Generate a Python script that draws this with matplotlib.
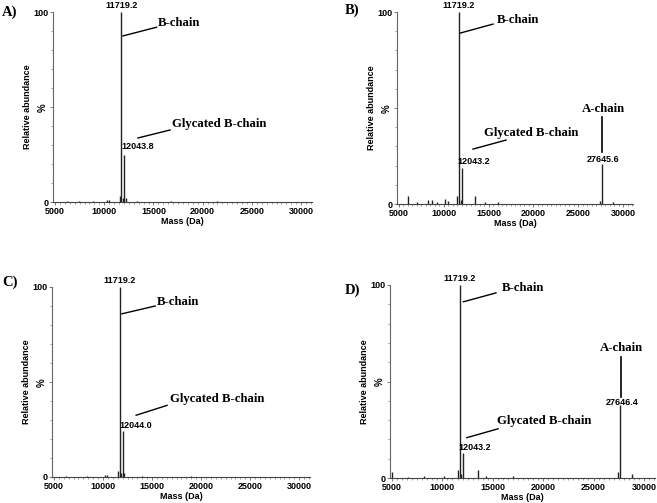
import matplotlib
matplotlib.use("Agg")
import matplotlib.pyplot as plt
import numpy as np

# stick spectra (mass in Da, relative abundance in %)
mass_a = [6200, 7400, 8900, 10250, 10450, 11560, 11719.2, 11860, 12043.8, 12180, 13300, 16800, 21500]
int_a = [0.5, 0.4, 0.5, 1.0, 0.8, 3.0, 100, 2.0, 25, 2.0, 0.6, 0.4, 0.4]

mass_b = [6000, 7000, 8300, 8700, 9300, 10200, 10450, 11450, 11719.2, 11880, 12043.2, 13500, 14600, 16000, 27400, 27645.6, 28900]
int_b = [4.0, 1.0, 2.0, 2.0, 1.0, 2.5, 1.5, 4.0, 100, 2.0, 19, 4.0, 1.0, 0.8, 1.5, 21, 1.0]

mass_c = [6200, 8400, 10250, 10450, 11560, 11719.2, 11860, 12044.0, 12180, 14000, 19000]
int_c = [0.4, 0.4, 1.0, 0.8, 3.0, 100, 2.0, 24, 2.0, 0.5, 0.4]

mass_d = [5000, 6600, 8200, 10200, 11500, 11719.2, 11880, 12043.2, 13500, 14300, 17000, 27450, 27646.4, 28800]
int_d = [3.0, 0.5, 0.8, 1.0, 4.0, 100, 2.0, 13, 4.0, 1.0, 0.8, 3.0, 38, 2.0]

panel_letters = ["A)", "B)", "C)", "D)"]
main_label = "11719.2"
glyc_labels = ["12043.8", "12043.2", "12044.0", "12043.2"]
achain_labels = [None, "27645.6", None, "27646.4"]

W, H = 657, 503
fig = plt.figure(figsize=(W / 100, H / 100), dpi=100)

# axes boxes in pixels: left, right, top, bottom
boxes = [(53, 312, 12, 202), (397, 633, 12, 204), (52, 310, 287, 477), (390, 655, 285, 478)]

# annotation geometry in axes fraction
bchain = [
    ((0.405, 0.942), (0.27, 0.874), (0.40, 0.92)),
    ((0.424, 0.958), (0.267, 0.89), (0.407, 0.937)),
    ((0.407, 0.921), (0.271, 0.859), (0.40, 0.90)),
    ((0.423, 0.985), (0.277, 0.913), (0.40, 0.959)),
]
glyc = [
    ((0.46, 0.41), (0.328, 0.337), (0.452, 0.379)),
    ((0.369, 0.37), (0.322, 0.286), (0.462, 0.333)),
    ((0.457, 0.408), (0.326, 0.325), (0.446, 0.377)),
    ((0.404, 0.296), (0.29, 0.209), (0.408, 0.255)),
]
glyc_num = [(0.266, 0.29), (0.258, 0.219), (0.26, 0.272), (0.26, 0.158)]
achain = [None, ((0.873, 0.495), 0.455, 0.271, 0.234), None, ((0.875, 0.675), 0.625, 0.42, 0.393)]
letter_pos = [(2, 12), (345, 10), (2, 282), (345, 290)]

spectra = [(mass_a, int_a), (mass_b, int_b), (mass_c, int_c), (mass_d, int_d)]

sans = "Liberation Sans"
serif = "Liberation Serif"
col = "#222222"
fs_small = 6.5
fs_big = 9.2

for i, (m, y) in enumerate(spectra):
    l, r, t, b = boxes[i]
    ax = fig.add_axes([l / W, 1 - b / H, (r - l) / W, (b - t) / H])
    ax.vlines(m, 0, y, color=col, lw=1.0)
    ax.set_xlim(4800, 31100)
    ax.set_ylim(0, 100)
    for s in ["top", "right"]:
        ax.spines[s].set_visible(False)
    ax.spines["left"].set_color("#666666")
    ax.spines["bottom"].set_color("#444444")
    ax.spines["left"].set_linewidth(0.8)
    ax.spines["bottom"].set_linewidth(0.8)
    ax.set_yticks([0, 50, 100])
    ax.set_yticklabels(["0", "%", "100"])
    ax.set_yticks(np.arange(0, 101, 10), minor=True)
    ax.set_xticks(np.arange(5000, 30001, 5000))
    ax.set_xticks(np.arange(5000, 31001, 500), minor=True)
    ax.tick_params(axis="both", which="major", length=2, width=0.6, color="#666666", pad=1.5)
    ax.tick_params(axis="both", which="minor", length=1.5, width=0.5, color="#777777")
    for lab in ax.get_xticklabels() + ax.get_yticklabels():
        lab.set_fontfamily(sans)
        lab.set_fontweight("bold")
        lab.set_fontsize(fs_small)
    ax.get_yticklabels()[1].set_rotation(90)
    ax.get_yticklabels()[1].set_fontsize(7)
    ax.set_xlabel("Mass (Da)", fontfamily=sans, fontweight="bold", fontsize=fs_small, labelpad=1)
    ax.set_ylabel("Relative abundance", fontfamily=sans, fontweight="bold", fontsize=fs_small, labelpad=0.5)

    tr = ax.transAxes
    # main peak label
    ax.text(11719.2, 101, main_label, ha="center", va="bottom", fontfamily=sans,
            fontweight="bold", fontsize=fs_small, clip_on=False)
    # B-chain
    (tx, ty), p0, p1 = bchain[i]
    ax.text(tx, ty, "B-chain", transform=tr, ha="left", va="center", fontfamily=serif,
            fontweight="bold", fontsize=fs_big, clip_on=False)
    ax.plot([p0[0], p1[0]], [p0[1], p1[1]], transform=tr, color="black", lw=1.0, clip_on=False)
    # glycated
    (tx, ty), p0, p1 = glyc[i]
    ax.text(tx, ty, "Glycated B-chain", transform=tr, ha="left", va="center", fontfamily=serif,
            fontweight="bold", fontsize=fs_big, clip_on=False)
    ax.plot([p0[0], p1[0]], [p0[1], p1[1]], transform=tr, color="black", lw=1.0, clip_on=False)
    gx, gy = glyc_num[i]
    ax.text(gx, gy, glyc_labels[i], transform=tr, ha="left", va="center", fontfamily=sans,
            fontweight="bold", fontsize=fs_small)
    # A-chain
    if achain[i] is not None:
        (tx, ty), ly0, ly1, ny = achain[i]
        ax.text(tx, ty, "A-chain", transform=tr, ha="center", va="center", fontfamily=serif,
                fontweight="bold", fontsize=fs_big)
        ax.plot([tx - 0.003, tx - 0.003], [ly0, ly1], transform=tr, color="black", lw=1.2)
        ax.text(tx, ny, achain_labels[i], transform=tr, ha="center", va="center", fontfamily=sans,
                fontweight="bold", fontsize=fs_small)
    lx, ly = letter_pos[i]
    fig.text(lx / W, 1 - ly / H, panel_letters[i], ha="left", va="center", fontfamily=serif,
             fontweight="bold", fontsize=10.5)

fig.savefig("out.png", dpi=100)
